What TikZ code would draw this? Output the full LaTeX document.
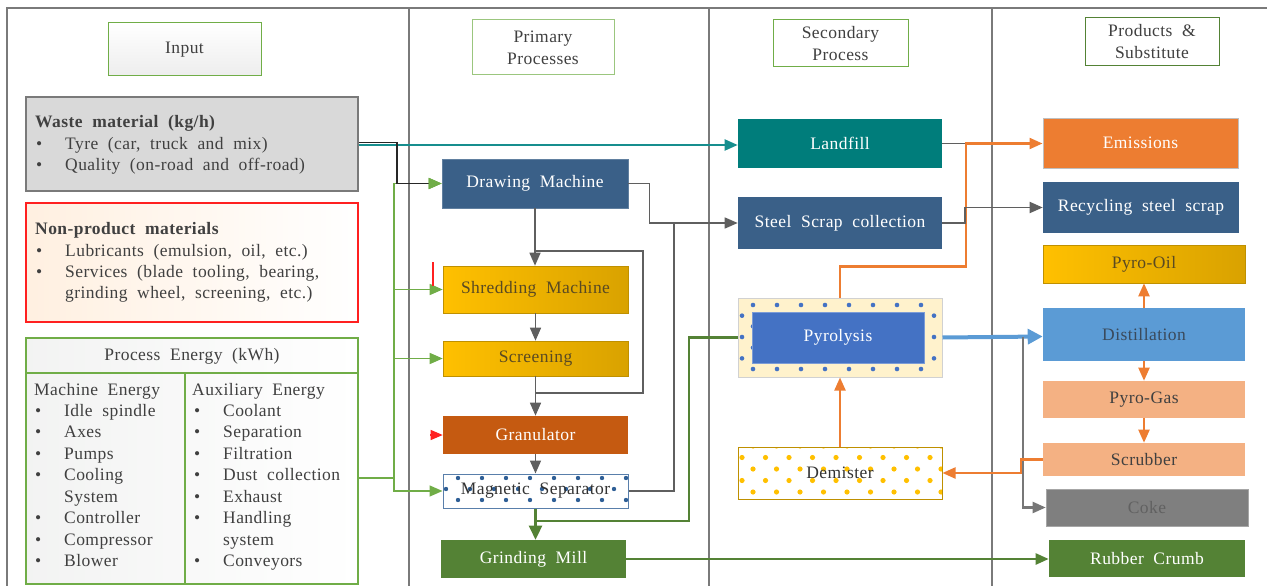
\documentclass[tikz,border=0pt]{standalone}
\usepackage{fontspec}
\setmainfont{Liberation Serif}[WordSpace=2.0, LetterSpace=2.5]
\usetikzlibrary{arrows.meta}
\definecolor{frm}{HTML}{7A7A7A}
\definecolor{txt}{HTML}{404040}
\definecolor{hgreen}{HTML}{70AD47}
\definecolor{steel}{HTML}{3A6088}
\definecolor{tealf}{HTML}{007D7B}
\definecolor{tealc}{HTML}{168E8E}
\definecolor{goldA}{HTML}{FFC000}
\definecolor{goldB}{HTML}{D9A200}
\definecolor{goldD}{HTML}{BF9000}
\definecolor{goldT}{HTML}{5A4A22}
\definecolor{granf}{HTML}{C55A11}
\definecolor{dgrn}{HTML}{548235}
\definecolor{lgrn}{HTML}{70AD47}
\definecolor{emis}{HTML}{ED7D31}
\definecolor{orng}{HTML}{ED7D31}
\definecolor{dist}{HTML}{5B9BD5}
\definecolor{distT}{HTML}{3A4A5C}
\definecolor{pgas}{HTML}{F4B183}
\definecolor{cokef}{HTML}{7F7F7F}
\definecolor{pyroB}{HTML}{4472C4}
\definecolor{cream}{HTML}{FFF2CC}
\definecolor{msdot}{HTML}{2F5F96}
\definecolor{wastef}{HTML}{D9D9D9}
\definecolor{gry}{HTML}{5F5F5F}
\definecolor{redc}{HTML}{FF2020}
\newcommand\myblt{\makebox[29pt][l]{\textbullet}}
\begin{document}
\begin{tikzpicture}[x=1pt,y=-1pt,
  hbox/.style={draw=hgreen, line width=1pt, inner sep=0pt, align=center, text=txt, font=\fontsize{17.5}{22}\selectfont},
  pbox/.style={inner sep=0pt, align=center, font=\fontsize{17.5}{21}\selectfont, line width=0.6pt},
  tl/.style={inner sep=0pt, anchor=base west, text=txt, font=\fontsize{17.5}{21}\selectfont},
  arr/.style={-{Triangle[length=13pt,width=11pt]}},
  gline/.style={draw=gry, line width=1.5pt},
  goldbox/.style={pbox, left color=goldA, right color=goldB, draw=goldD, text=goldT},
]
\useasboundingbox (0,0) rectangle (1267,586);
% frame
\draw[frm, line width=1.5pt] (7,586) -- (7,8) -- (1267,8);
\draw[frm, line width=1.3pt] (409,8) -- (409,586);
\draw[frm, line width=1.3pt] (709,8) -- (709,586);
\draw[frm, line width=1.3pt] (992,8) -- (992,586);

% headers
\node[hbox, top color=white, bottom color=black!7, minimum width=153pt, minimum height=53pt] (hin) at (184.5,49.5) {Input};
\node[hbox, draw=hgreen!70, fill=white, minimum width=142pt, minimum height=55pt] (hpri) at (543,47.5) {Primary\\Processes};
\node[hbox, fill=white, minimum width=135pt, minimum height=47pt] (hsec) at (840.5,43.5) {Secondary\\Process};
\node[hbox, draw=dgrn, fill=white, minimum width=134pt, minimum height=48pt] (hprod) at (1152,42) {Products \&\\Substitute};

% left boxes
\node[draw=frm, fill=wastef, line width=1.3pt, minimum width=332pt, minimum height=94pt] (waste) at (192,144) {};
\node[tl] (w0) at (35,128) {\textbf{Waste material (kg/h)}};
\node[tl] (w1) at (36,149) {\myblt Tyre (car, truck and mix)};
\node[tl] (w2) at (36,170) {\myblt Quality (on-road and off-road)};

\node[draw=redc, line width=1.3pt, left color=orange!12, right color=white, minimum width=332pt, minimum height=119pt] (nonp) at (192,262.5) {};
\node[tl] (n0) at (35,234) {\textbf{Non-product materials}};
\node[tl] (n1) at (36,256) {\myblt Lubricants (emulsion, oil, etc.)};
\node[tl] (n2) at (36,277) {\myblt Services (blade tooling, bearing,};
\node[tl] (n3) at (65,298) {grinding wheel, screening, etc.)};

\node[draw=lgrn, line width=1.3pt, left color=green!4!black!5, right color=white, minimum width=332pt, minimum height=246pt] (energy) at (192,461) {};
\draw[lgrn, line width=1.3pt] (26,373) -- (358,373);
\draw[lgrn, line width=1.3pt] (185,373) -- (185,584);
\node[tl, anchor=base] (e0) at (192,360) {Process Energy (kWh)};
\node[tl] (m0) at (34,395) {Machine Energy};
\node[tl] (a0) at (192,395) {Auxiliary Energy};
\foreach \t/\y [count=\i] in {{\myblt Idle spindle}/416, {\myblt Axes}/437.5, {\myblt Pumps}/459, {\myblt Cooling}/480.5, {\hspace*{29pt}System}/502, {\myblt Controller}/523.5, {\myblt Compressor}/545, {\myblt Blower}/566.5}
  \node[tl] (me\i) at (35,\y) {\t};
\foreach \t/\y [count=\i] in {{\myblt Coolant}/416, {\myblt Separation}/437.5, {\myblt Filtration}/459, {\myblt Dust collection}/480.5, {\myblt Exhaust}/502, {\myblt Handling}/523.5, {\hspace*{29pt}system}/545, {\myblt Conveyors}/566.5}
  \node[tl] (ae\i) at (194,\y) {\t};

% primary process boxes
\node[pbox, fill=steel, draw=steel!80!white, text=white, minimum width=186pt, minimum height=49pt] (drawing) at (535,183.5) {Drawing Machine};
\node[goldbox, minimum width=185pt, minimum height=47pt] (shred) at (535.5,289.5) {Shredding Machine};
\node[goldbox, minimum width=185pt, minimum height=35pt] (screen) at (535.5,358.5) {Screening};
\node[pbox, fill=granf, text=white, minimum width=185pt, minimum height=38pt] (gran) at (535.5,435) {Granulator};
\node[pbox, fill=white, draw=msdot!80, line width=1pt, text=black!80, minimum width=185pt, minimum height=34pt,
  path picture={
    \foreach \r in {0,2} \foreach \c in {0,...,7}
      \fill[msdot] ([xshift={(15+24*\c)*1pt}, yshift={-(4+11*\r)*1pt}]path picture bounding box.north west) circle (2.2pt);
    \foreach \c in {0,...,7}
      \fill[msdot] ([xshift={(3+24*\c)*1pt}, yshift=-15pt]path picture bounding box.north west) circle (2.2pt);
  }] (magsep) at (535.5,491) {Magnetic Separator};
\node[pbox, fill=dgrn, text=white, minimum width=185pt, minimum height=38pt] (grind) at (533.5,559) {Grinding Mill};

% secondary
\node[pbox, fill=tealf, text=white, minimum width=204pt, minimum height=49pt] (landfill) at (840,143.5) {Landfill};
\node[pbox, fill=steel, text=white, minimum width=204pt, minimum height=52pt] (steel) at (840,223) {Steel Scrap collection};
\node[pbox, fill=cream, draw=black!18, line width=1pt, minimum width=204pt, minimum height=79pt,
  path picture={
    \foreach \r in {0,2,4,6} \foreach \c in {0,...,8}
      \fill[pyroB] ([xshift={(15+24*\c)*1pt}, yshift={-(7+10.67*\r)*1pt}]path picture bounding box.north west) circle (2.3pt);
    \foreach \r in {1,3,5} \foreach \c in {0,...,8}
      \fill[pyroB] ([xshift={(4+24*\c)*1pt}, yshift={-(7+10.67*\r)*1pt}]path picture bounding box.north west) circle (2.3pt);
  }] (pyro) at (840,337.5) {};
\node[pbox, fill=pyroB, draw=pyroB!70!white, text=white, minimum width=172pt, minimum height=51pt] (pyroin) at (838,337.5) {Pyrolysis};
\node[pbox, fill=white, draw=goldD, line width=1pt, text=black!80, minimum width=204pt, minimum height=52pt,
  path picture={
    \foreach \r in {0,2,4} \foreach \c in {0,...,8}
      \fill[goldA] ([xshift={(15+23.5*\c)*1pt}, yshift={-(-1+11.5*\r)*1pt}]path picture bounding box.north west) circle (2.6pt);
    \foreach \r in {1,3} \foreach \c in {0,...,8}
      \fill[goldA] ([xshift={(4+23.5*\c)*1pt}, yshift={-(-1+11.5*\r)*1pt}]path picture bounding box.north west) circle (2.6pt);
  }] (demister) at (840,473) {Demister};

% products
\node[pbox, fill=emis, draw=black!25, line width=1pt, text=white, minimum width=195pt, minimum height=50pt] (emiss) at (1140.5,143) {Emissions};
\node[pbox, fill=steel, text=white, minimum width=196pt, minimum height=51pt] (recyc) at (1141,207.5) {Recycling steel scrap};
\node[goldbox, minimum width=202pt, minimum height=38pt] (poil) at (1144,264) {Pyro-Oil};
\node[pbox, fill=dist, text=distT, minimum width=202pt, minimum height=53pt] (distill) at (1144,334.5) {Distillation};
\node[pbox, fill=pgas, text=black!75, minimum width=202pt, minimum height=37pt] (pgas) at (1144,399.5) {Pyro-Gas};
\node[pbox, fill=pgas, text=black!75, minimum width=202pt, minimum height=33pt] (scrub) at (1144,459.5) {Scrubber};
\node[pbox, fill=cokef, draw=black!35, text=black!62, minimum width=202pt, minimum height=37pt] (coke) at (1147,507.5) {Coke};
\node[pbox, fill=dgrn, text=white, minimum width=196pt, minimum height=37pt] (rubber) at (1147,558.5) {Rubber Crumb};

% ---- connectors ----
% green energy feeds
\coordinate (gj) at (394,478);
\draw[lgrn, line width=1.5pt] ([yshift=-17pt]energy.east) -- (gj);
\draw[lgrn, line width=1.5pt, arr] (gj) |- (magsep.west);
\draw[lgrn, line width=1.5pt, arr] (gj) |- (screen.west);
\draw[lgrn, line width=1.5pt, arr] (gj) |- (shred.west);
\draw[lgrn, line width=1.5pt, arr] (gj) |- (drawing.west);
% waste -> landfill (teal) and waste -> drawing (black)
\draw[tealc, line width=2pt, arr] ([yshift=-1pt]waste.east) -- ([yshift=-1pt]waste.east -| landfill.west);
\coordinate (jb) at (397,183.5);
\draw[black!85, line width=1.6pt, -{Triangle[length=13pt,width=11pt,color=lgrn]}] ([yshift=1.5pt]waste.east) -| (jb) -- (drawing.west);
% red marks
\coordinate (r1) at (433,262);
\coordinate (r2) at (433,286);
\draw[redc, line width=1.2pt] (r1) -- (r2);
\coordinate (rg) at (430,435);
\draw[redc, line width=1.2pt, -{Triangle[length=12pt,width=10pt]}] (rg) -- (gran.west);
% gray chain
\draw[gline, arr] (drawing.south) -- (drawing.south |- shred.north);
\draw[gline, arr] (shred.south) -- (screen.north);
\draw[gline, arr] (screen.south) -- (gran.north);
\draw[gline, arr] (gran.south) -- (magsep.north);
\coordinate (la) at (536,251);
\coordinate (lb) at (536,393);
\draw[gry, line width=1.3pt] (la) -- (643,251) -- (643,393) -- (lb);
% to steel scrap
\draw[gline, arr] (drawing.east) -- ++(21,0) |- (steel.west);
\coordinate (jm) at (674,223);
\draw[gry, line width=1.4pt] (magsep.east) -| (jm);
% magnetic separator -> grinding and pyrolysis
\draw[dgrn, line width=2.6pt, -{Triangle[length=14pt,width=13pt]}] (magsep.south) -- (magsep.south |- grind.north);
\coordinate (gb) at (536,521);
\draw[dgrn, line width=2.2pt] (gb) -- (689,521) |- (pyro.west);
\draw[dgrn, line width=2.4pt, arr] (grind.east) -- (grind.east -| rubber.west);
% landfill/steel -> products
\coordinate (jl) at (966,143.5);
\draw[gry, line width=1.5pt] (landfill.east) -- (jl);
\draw[orng, line width=2.2pt, arr] (pyro.north) -- ++(0,-31) -| (jl) -- (jl -| emiss.west);
\draw[gry, line width=1.8pt, arr] (steel.east) -- ++(23,0) |- (recyc.west);
% pyrolysis -> distillation
\draw[dist, line width=4pt, -{Triangle[length=15pt,width=15pt]}] (pyro.east) -- ([yshift=1pt]pyro.east -| distill.west);
\coordinate (jc) at (1023,337);
\draw[gry!85, line width=2.2pt, arr] (jc) |- (coke.west);
% distillation chain
\draw[orng, line width=2.2pt, arr] (distill.north) -- (poil.south);
\draw[orng, line width=2.2pt, arr] (distill.south) -- (pgas.north);
\draw[orng, line width=2.2pt, arr] (pgas.south) -- (scrub.north);
\draw[orng, line width=2.2pt, arr] (scrub.west) -- ++(-22,0) |- (demister.east);
\draw[orng, line width=2.2pt, arr] (demister.north) -- (pyro.south);
\end{tikzpicture}
\end{document}
